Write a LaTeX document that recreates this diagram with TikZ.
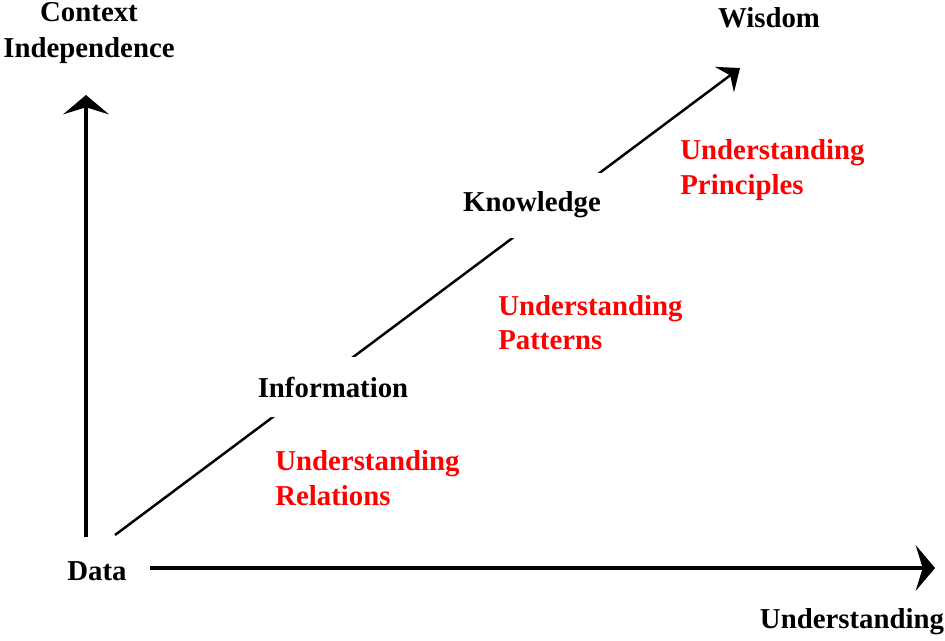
\documentclass[tikz,border=0pt]{standalone}
\usepackage{fontspec}
\setmainfont{Liberation Serif}
\usetikzlibrary{arrows.meta}
\begin{document}
\begin{tikzpicture}[x=0.02cm,y=-0.02cm,
  lbl/.style={font=\fontsize{16.4}{19.5}\selectfont\bfseries,align=center},
  note/.style={lbl,text=red,align=left,anchor=west,inner sep=0pt},
  stage/.style={lbl,fill=white,inner xsep=2pt,inner ysep=11pt},
  axis/.style={line width=2.8pt,-{Stealth[length=11pt,width=26pt,inset=4pt]}},
  rise/.style={line width=1.4pt,-{Stealth[length=11pt,width=18pt,inset=4pt]}}]
  \useasboundingbox (0,0) rectangle (945,640);
  \coordinate (yfoot) at (86,537);
  \coordinate (ytip) at (86,95);
  \coordinate (xfoot) at (150,568);
  \coordinate (xtip) at (935,568);
  \coordinate (dfoot) at (115,535);
  \coordinate (dtip) at (740,68);

  \draw[axis] (yfoot) -- (ytip);
  \draw[axis] (xfoot) -- (xtip);
  \draw[rise] (dfoot) -- (dtip);

  \node [lbl,font=\fontsize{16.4}{20.5}\selectfont\bfseries] (ctx) at (89,33) {Context\\Independence};
  \node [lbl] (und) at (852,622) {Understanding};
  \node [lbl] (data) at (97,571) {Data};
  \node [stage] (info) at (333,387) {Information};
  \node [stage] (know) at (532,205) {Knowledge};
  \node [lbl] (wis) at (769,18) {Wisdom};

  \node [note] (rel) at (275,478) {Understanding\\Relations};
  \node [note] (pat) at (498,323) {Understanding\\Patterns};
  \node [note] (pri) at (680,170) {Understanding\\Principles};
\end{tikzpicture}
\end{document}
